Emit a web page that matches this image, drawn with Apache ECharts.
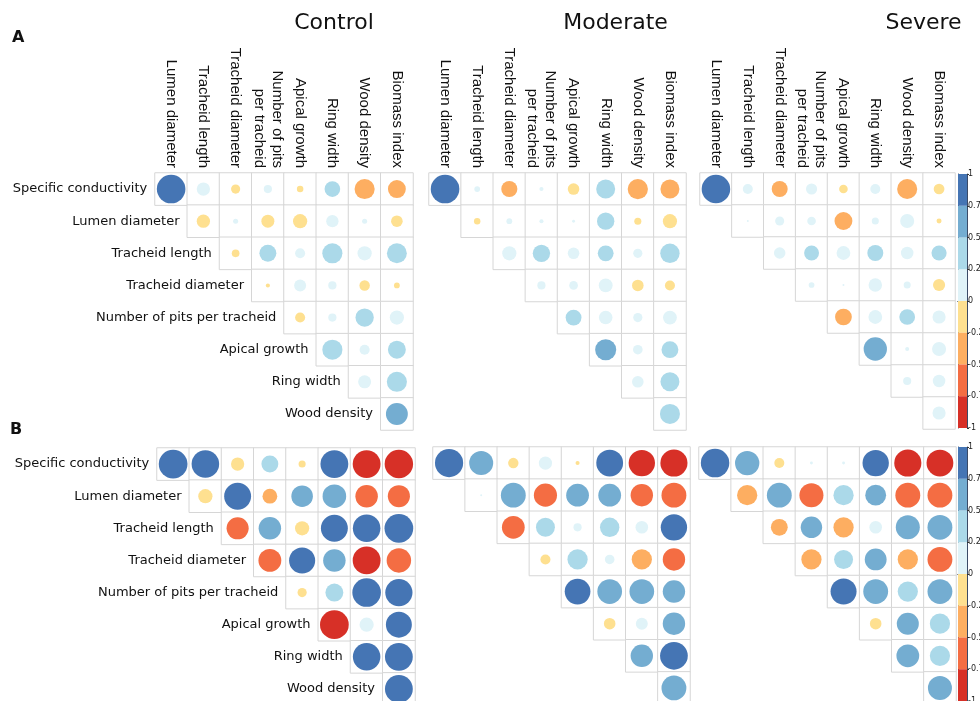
<!DOCTYPE html>
<html><head><meta charset="utf-8">
<script src="https://cdn.jsdelivr.net/npm/echarts@6/dist/echarts.min.js"></script>
<style>html,body{margin:0;padding:0;background:#fff}#chart{width:980px;height:701px}</style>
</head><body><div id="chart"></div>
<script>
// ---------- data ----------
const colLabels = ['Lumen diameter','Tracheid length','Tracheid diameter','Number of pits\nper tracheid','Apical growth','Ring width','Wood density','Biomass index'];
const rowLabels = ['Specific conductivity','Lumen diameter','Tracheid length','Tracheid diameter','Number of pits per tracheid','Apical growth','Ring width','Wood density'];
const treatments = ['Control','Moderate','Severe'];
const panelLetters = ['A','B'];

// upper-triangle correlations, row i covers columns i..7
const aControl = [
  [0.97, 0.21, -0.10, 0.08, -0.05, 0.29, -0.48, -0.38],
  [-0.21, 0.03, -0.20, -0.24, 0.18, 0.03, -0.16],
  [-0.07, 0.34, 0.12, 0.48, 0.24, 0.47],
  [-0.02, 0.17, 0.08, -0.13, -0.04],
  [-0.12, 0.08, 0.40, 0.24],
  [0.48, 0.12, 0.38],
  [0.20, 0.48],
  [0.57]
];
const aModerate = [
  [0.98, 0.04, -0.31, 0.02, -0.16, 0.43, -0.49, -0.43],
  [-0.05, 0.04, 0.02, 0.01, 0.36, -0.06, -0.24],
  [0.24, 0.36, 0.16, 0.30, 0.10, 0.45],
  [0.08, 0.09, 0.23, -0.16, -0.12],
  [0.30, 0.22, 0.10, 0.23],
  [0.53, 0.11, 0.34],
  [0.16, 0.43],
  [0.48]
];
const aSevere = [
  [0.99, 0.12, -0.31, 0.15, -0.09, 0.12, -0.49, -0.14],
  [0.005, 0.10, 0.09, -0.39, 0.06, 0.24, -0.03],
  [0.16, 0.27, 0.23, 0.31, 0.19, 0.28],
  [0.04, 0.005, 0.22, 0.06, -0.18],
  [-0.34, 0.23, 0.30, 0.21],
  [0.66, 0.02, 0.24],
  [0.08, 0.19],
  [0.21]
];
const bControl = [
  [0.98, 0.90, -0.21, 0.34, -0.06, 0.92, -0.92, -0.96],
  [-0.24, 0.86, -0.26, 0.55, 0.66, -0.60, -0.58],
  [-0.58, 0.60, -0.24, 0.86, 0.90, 0.98],
  [-0.62, 0.81, 0.60, -0.92, -0.71],
  [-0.10, 0.38, 0.97, 0.88],
  [-0.98, 0.24, 0.80],
  [0.90, 0.92],
  [0.92]
];
const bModerate = [
  [0.95, 0.69, -0.13, 0.21, -0.02, 0.86, -0.83, -0.88],
  [0.005, 0.74, -0.64, 0.62, 0.62, -0.60, -0.74],
  [-0.62, 0.43, 0.08, 0.45, 0.19, 0.83],
  [-0.12, 0.49, 0.11, -0.49, -0.60],
  [0.79, 0.73, 0.73, 0.60],
  [-0.16, 0.17, 0.60],
  [0.60, 0.92],
  [0.74]
];
const bSevere = [
  [0.97, 0.71, -0.12, 0.01, 0.01, 0.83, -0.88, -0.86],
  [-0.49, 0.74, -0.69, 0.49, 0.52, -0.74, -0.74],
  [-0.34, 0.55, -0.49, 0.19, 0.69, 0.74],
  [-0.49, 0.43, 0.57, -0.49, -0.74],
  [0.81, 0.74, 0.49, 0.74],
  [-0.16, 0.58, 0.49],
  [0.62, 0.49],
  [0.69]
];
const binEdges = [-1, -0.75, -0.5, -0.25, 0, 0.25, 0.5, 0.75, 1];

// ---------- styles / layout ----------
const palette = ['#d73027','#f46d43','#fdae61','#fee090','#e0f3f8','#abd9e9','#74add1','#4575b4'];
const panels = [
  {values: aControl,  box: {left:155, top:173, width:258, height:257}, cols:true,  rows:true},
  {values: aModerate, box: {left:429, top:173, width:257, height:257}, cols:true,  rows:false},
  {values: aSevere,   box: {left:700, top:173, width:255, height:256}, cols:true,  rows:false},
  {values: bControl,  box: {left:157, top:448, width:258, height:257}, cols:false, rows:true},
  {values: bModerate, box: {left:433, top:447, width:257, height:257}, cols:false, rows:false},
  {values: bSevere,   box: {left:699, top:447, width:257, height:257}, cols:false, rows:false}
];
const colorbars = [
  {left:958, top:174, width:9, height:254},
  {left:958, top:447, width:9, height:254}
];

const grid = [], xAxis = [], yAxis = [], series = [], scatterIdx = [];

panels.forEach((p, k) => {
  grid.push(Object.assign({outerBoundsMode: 'none', containLabel: false}, p.box));
  xAxis.push({
    gridIndex: k, type: 'category', data: colLabels, position: 'top',
    axisLine: {show: false}, axisTick: {show: false}, splitLine: {show: false},
    axisLabel: {show: p.cols, rotate: 90, margin: 5, interval: 0,
      fontFamily: 'Liberation Sans, Arial, sans-serif', fontSize: 15, color: '#111', lineHeight: 18}
  });
  yAxis.push({gridIndex: k, type: 'category', data: rowLabels, inverse: true, show: false});
  const cell = p.box.width / colLabels.length;
  const cells = [], dots = [];
  p.values.forEach((row, i) => {
    row.forEach((v, n) => {
      const j = i + n;
      const item = {value: [j, i, v]};
      if (p.rows && j === i) item.label = {show: true, formatter: rowLabels[i]};
      cells.push(item);
      dots.push([j, i, v]);
    });
  });
  series.push({
    type: 'heatmap', xAxisIndex: k, yAxisIndex: k, data: cells, silent: true,
    itemStyle: {color: '#fff', borderColor: '#d6d6d6', borderWidth: 1},
    label: {show: false, position: 'left', distance: 7, fontFamily: 'DejaVu Sans', fontSize: 13, color: '#111'},
    emphasis: {disabled: true}
  });
  scatterIdx.push(series.length);
  series.push({
    type: 'scatter', xAxisIndex: k, yAxisIndex: k, data: dots, silent: true, z: 3,
    symbol: 'circle', itemStyle: {opacity: 1},
    symbolSize: (val) => 0.9 * cell * Math.sqrt(Math.abs(val[2])),
    emphasis: {disabled: true}
  });
});

colorbars.forEach((cb, c) => {
  const gi = grid.length;
  grid.push(Object.assign({outerBoundsMode: 'none', containLabel: false}, cb));
  const xi = xAxis.length, yi = yAxis.length;
  const line = {show: true, lineStyle: {color: '#3b4a66', width: 1}};
  xAxis.push({gridIndex: gi, type: 'category', data: ['bar'], position: 'bottom', axisLine: line, axisTick: {show: false}, axisLabel: {show: false}});
  xAxis.push({gridIndex: gi, type: 'category', data: ['bar'], position: 'top', axisLine: line, axisTick: {show: false}, axisLabel: {show: false}});
  yAxis.push({gridIndex: gi, type: 'value', min: -1, max: 1, interval: 0.25, position: 'right',
    axisLine: line, axisTick: {show: true, length: 2, lineStyle: {color: '#333'}},
    axisLabel: {fontSize: 8, margin: 1, color: '#222', fontFamily: 'DejaVu Sans'}, splitLine: {show: false}});
  yAxis.push({gridIndex: gi, type: 'value', min: -1, max: 1, interval: 0.25, position: 'left',
    axisLine: line, axisTick: {show: false}, axisLabel: {show: false}, splitLine: {show: false}});
  const order = [4, 5, 6, 7, 3, 2, 1, 0];
  order.forEach(b => {
    const lo = binEdges[b], hi = binEdges[b + 1];
    const v = b >= 4 ? hi - lo : lo - hi;
    series.push({type: 'bar', xAxisIndex: xi, yAxisIndex: yi, stack: 'cb' + c, data: [v],
      barWidth: '100%', silent: true, itemStyle: {color: palette[b], opacity: 1}});
  });
});

const pieces = palette.map((col, b) => b === palette.length - 1
  ? {gte: binEdges[b], lte: binEdges[b + 1], color: col}
  : {gte: binEdges[b], lt: binEdges[b + 1], color: col});

const titleCenters = [334, 615.5, 923.5];
const graphics = treatments.map((t, i) => ({
  type: 'text', x: titleCenters[i], y: 23,
  style: {text: t, font: '22px "DejaVu Sans"', fill: '#111', textAlign: 'center', textVerticalAlign: 'middle'}
}));
const letterPos = [[12, 38], [10, 430]];
panelLetters.forEach((l, i) => graphics.push({
  type: 'text', x: letterPos[i][0], y: letterPos[i][1],
  style: {text: l, font: 'bold 16px "DejaVu Sans"', fill: '#111', textAlign: 'left', textVerticalAlign: 'middle'}
}));

const chart = echarts.init(document.getElementById('chart'), null, {renderer: 'canvas'});
chart.setOption({
  animation: false,
  backgroundColor: '#fff',
  grid, xAxis, yAxis, series,
  visualMap: {type: 'piecewise', show: false, dimension: 2, seriesIndex: scatterIdx, pieces},
  graphic: graphics
});
</script></body></html>
